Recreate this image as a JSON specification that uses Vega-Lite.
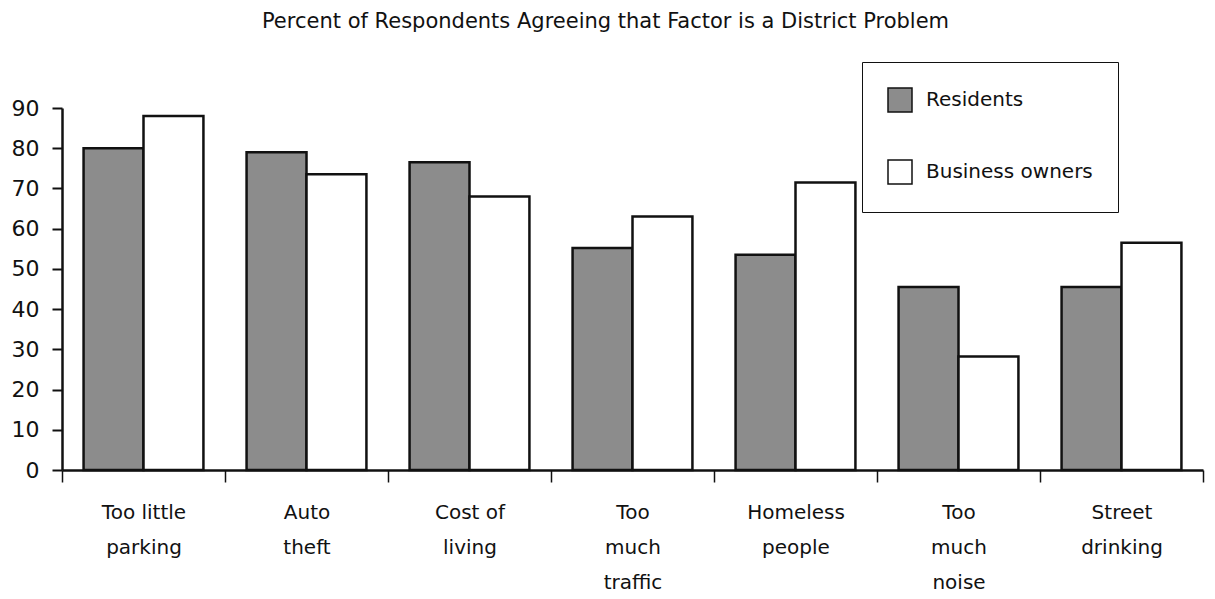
{
  "$schema": "https://vega.github.io/schema/vega-lite/v6.json",
  "autosize": {"type": "none"},
  "padding": {"left": 62, "top": 108, "right": 12, "bottom": 129},
  "width": 1141,
  "height": 362,
  "background": "white",
  "title": {
    "text": "Percent of Respondents Agreeing that Factor is a District Problem",
    "font": "DejaVu Sans",
    "fontSize": 21,
    "fontWeight": "normal",
    "color": "#111",
    "anchor": "middle",
    "frame": "group",
    "dx": -27,
    "offset": 30
  },
  "data": {
    "values": [
      {"factor": "Too little parking", "group": "Residents", "percent": 80},
      {"factor": "Too little parking", "group": "Business owners", "percent": 88},
      {"factor": "Auto theft", "group": "Residents", "percent": 79},
      {"factor": "Auto theft", "group": "Business owners", "percent": 73.5},
      {"factor": "Cost of living", "group": "Residents", "percent": 76.5},
      {"factor": "Cost of living", "group": "Business owners", "percent": 68},
      {"factor": "Too much traffic", "group": "Residents", "percent": 55.2},
      {"factor": "Too much traffic", "group": "Business owners", "percent": 63},
      {"factor": "Homeless people", "group": "Residents", "percent": 53.5},
      {"factor": "Homeless people", "group": "Business owners", "percent": 71.5},
      {"factor": "Too much noise", "group": "Residents", "percent": 45.5},
      {"factor": "Too much noise", "group": "Business owners", "percent": 28.2},
      {"factor": "Street drinking", "group": "Residents", "percent": 45.5},
      {"factor": "Street drinking", "group": "Business owners", "percent": 56.5}
    ]
  },
  "mark": {"type": "bar", "stroke": "#111", "strokeWidth": 2.5},
  "encoding": {
    "x": {
      "field": "factor",
      "type": "nominal",
      "sort": ["Too little parking", "Auto theft", "Cost of living", "Too much traffic", "Homeless people", "Too much noise", "Street drinking"],
      "scale": {"paddingInner": 0, "paddingOuter": 0},
      "axis": {
        "title": null,
        "labelAngle": 0,
        "tickBand": "extent",
        "tickSize": 12,
        "tickWidth": 1.5,
        "tickColor": "#111",
        "domainColor": "#111",
        "domainWidth": 2.5,
        "labelFont": "DejaVu Sans",
        "labelFontSize": 20,
        "labelColor": "#111",
        "labelPadding": 20,
        "labelLineHeight": 35,
        "labelBaseline": "top",
        "labelExpr": "datum.label == 'Too little parking' ? ['Too little','parking'] : datum.label == 'Cost of living' ? ['Cost of','living'] : split(datum.label, ' ')"
      }
    },
    "xOffset": {
      "field": "group",
      "type": "nominal",
      "sort": ["Residents", "Business owners"],
      "scale": {"paddingInner": 0, "paddingOuter": 0.36}
    },
    "y": {
      "field": "percent",
      "type": "quantitative",
      "scale": {"domain": [0, 90], "nice": false},
      "axis": {
        "title": null,
        "values": [0, 10, 20, 30, 40, 50, 60, 70, 80, 90],
        "grid": false,
        "tickSize": 10,
        "tickWidth": 2,
        "tickColor": "#111",
        "domainColor": "#111",
        "domainWidth": 2.5,
        "labelFont": "DejaVu Sans",
        "labelFontSize": 22,
        "labelColor": "#111",
        "labelPadding": 13
      }
    },
    "fill": {
      "field": "group",
      "type": "nominal",
      "sort": ["Residents", "Business owners"],
      "scale": {"domain": ["Residents", "Business owners"], "range": ["#8c8c8c", "#ffffff"]},
      "legend": {
        "title": null,
        "orient": "none",
        "legendX": 800,
        "legendY": -46,
        "direction": "vertical",
        "symbolType": "square",
        "symbolSize": 576,
        "symbolStrokeColor": "#111",
        "symbolStrokeWidth": 1.5,
        "labelFont": "DejaVu Sans",
        "labelFontSize": 20,
        "labelLimit": 300,
        "labelColor": "#111",
        "labelOffset": 13,
        "rowPadding": 42,
        "padding": 25,
        "strokeColor": "#111",
        "fillColor": "white"
      }
    }
  },
  "config": {"view": {"stroke": null}}
}
